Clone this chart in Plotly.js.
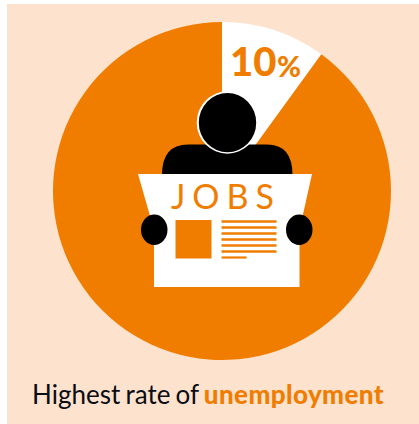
<!DOCTYPE html>
<html>
<head>
<meta charset="utf-8">
<script src="https://cdn.plot.ly/plotly-3.0.1.min.js"></script>
<style>html,body{margin:0;padding:0;background:#fff}#chart{width:419px;height:424px}</style>
</head>
<body>
<div id="chart"></div>
<script>
// Share of the workforce out of a job
const sliceLabels = ['Unemployed', 'Everyone else'];
const sliceValues = [10, 90];
const sliceColours = ['#ffffff', '#f07d00'];
const rateLabel = '10';
const headline = 'JOBS';
const captionLead = 'Highest rate of ';
const captionKey = 'unemployment';

const W = 419, H = 424;
const ORANGE = '#f07d00', PEACH = '#fde3cd';
const px = x => x / W;
const py = y => 1 - y / H;

// Builds a paper-referenced path from pixel-style points
function path(points, close) {
  const body = points.map((p, i) => {
    if (p.length === 4) return `Q${px(p[0])},${py(p[1])} ${px(p[2])},${py(p[3])}`;
    return `${i ? 'L' : 'M'}${px(p[0])},${py(p[1])}`;
  }).join(' ');
  return body + (close ? ' Z' : '');
}
const base = {xref: 'paper', yref: 'paper', line: {width: 0}};
const box = (type, x0, y0, x1, y1, fill, extra) => Object.assign({}, base,
  {type, x0: px(x0), x1: px(x1), y0: py(y1), y1: py(y0), fillcolor: fill}, extra || {});

const shapes = [
  box('rect', 7, 4, 419, 424, PEACH, {layer: 'below'}),
  // Reader: shoulders, head with a thin white outline
  Object.assign({}, base, {type: 'path', fillcolor: '#000',
    path: path([[162, 175], [162, 144.5, 188, 144.5], [267, 144.5], [292.5, 144.5, 292.5, 175]], true)}),
  box('circle', 196.7, 91.3, 258, 153.7, '#fff'),
  box('circle', 198.8, 93, 256.2, 152.3, '#000'),
  // Newspaper sheet
  Object.assign({}, base, {type: 'path', fillcolor: '#fff',
    path: path([[138, 174], [312, 174], [299.5, 230], [299.5, 287], [154, 287], [154, 230]], true)}),
  // Hands gripping the sheet
  box('circle', 141, 214.5, 167.5, 245, '#000'),
  box('circle', 286, 214.5, 312.5, 245, '#000'),
  // Photo block and column of text rules
  box('rect', 175.5, 220, 211.5, 258.5, ORANGE)
];
[221.5, 227.5, 233.5, 239.5, 245.5, 251.5].forEach(y =>
  shapes.push(box('rect', 221.5, y - 1.2, 276.5, y + 1.2, ORANGE)));
shapes.push(box('rect', 221.5, 256.4, 246.5, 258.6, ORANGE));

const note = (text, x, y, size, colour, family, anchor, weight) => ({
  text, xref: 'paper', yref: 'paper', x: px(x), y: py(y), showarrow: false,
  xanchor: anchor || 'left', yanchor: 'middle',
  font: {size, color: colour, family, weight: weight || 400}
});

const annotations = [
  note(rateLabel, 228, 60.5, 40, ORANGE, 'Lato', 'left', 900),
  note('%', 275, 65, 29, ORANGE, 'Lato', 'left', 900),
  note(`<span style="letter-spacing:7px">${headline}</span>`, 225.5, 195.5, 34, ORANGE, 'Lato', 'center'),
  note(`<span style="word-spacing:-1.5px">${captionLead}</span><span style="color:${ORANGE};font-weight:900;letter-spacing:0.4px">${captionKey}</span>`, 30, 394, 26, '#0b0c14', 'Lato')
];

Plotly.newPlot('chart', [{
  type: 'pie',
  labels: sliceLabels,
  values: sliceValues,
  sort: false,
  direction: 'clockwise',
  rotation: 0,
  textinfo: 'none',
  hoverinfo: 'label+value',
  marker: {colors: sliceColours, line: {width: 0}},
  domain: {x: [px(53), px(391)], y: [py(360), py(22)]}
}], {
  width: W, height: H,
  margin: {l: 0, r: 0, t: 0, b: 0},
  paper_bgcolor: '#ffffff',
  showlegend: false,
  shapes, annotations
}, {displayModeBar: false, staticPlot: true});
</script>
</body>
</html>
